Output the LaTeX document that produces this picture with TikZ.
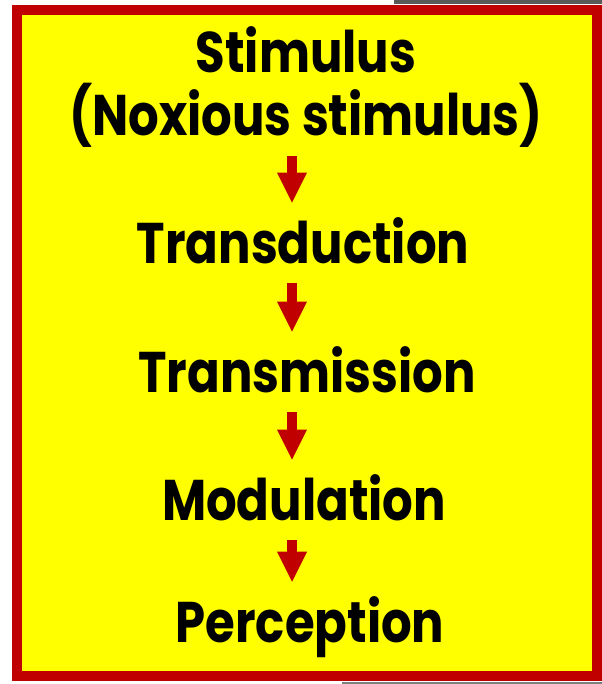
\documentclass[tikz,border=0pt]{standalone}
\usepackage{fontspec}
\newfontfamily\stepfont{Poppins}[BoldFont={* Bold},FakeStretch=0.84]
\usepackage{xcolor}
\definecolor{boxred}{RGB}{192,0,0}
\definecolor{boxyellow}{RGB}{255,255,0}
\definecolor{bardark}{RGB}{89,89,89}
\definecolor{barlight}{RGB}{127,127,127}
\usetikzlibrary{arrows.meta,positioning}

\begin{document}
\begin{tikzpicture}[x=0.75pt,y=-0.75pt,
  stage/.style={font=\stepfont\bfseries\fontsize{43}{48}\selectfont,inner sep=0pt,
    text height=30pt,text depth=0pt,anchor=base},
  flow/.style={draw=boxred,line width=7.5pt,shorten <=15pt,shorten >=15pt,
    -{Triangle[width=22.5pt,length=22.5pt,line width=0pt]}}
]
  \useasboundingbox (0,0) rectangle (602,684);
  % frame
  \fill[bardark] (394,0) rectangle (602,4);
  \fill[barlight] (342,682) rectangle (602,684);
  \fill[boxred] (12,5) rectangle (602,681);
  \fill[boxyellow] (22,15) rectangle (592,671);

  % stages
  \node[stage] (stim) at (306,73) {Stimulus};
  \node[stage] (nox) at (306,136) {(Noxious stimulus)};
  \node[stage] (trans) at (303,263) {Transduction};
  \node[stage] (transm) at (307,392) {Transmission};
  \node[stage] (modul) at (304,520) {Modulation};
  \node[stage] (percep) at (310,642) {Perception};

  % arrows
  \coordinate (axis) at (292,0);
  \draw[flow] (nox.south -| axis) -- (trans.north -| axis);
  \draw[flow] (trans.south -| axis) -- (transm.north -| axis);
  \draw[flow] (transm.south -| axis) -- (modul.north -| axis);
  \draw[flow] (modul.south -| axis) -- (percep.north -| axis);
\end{tikzpicture}
\end{document}
